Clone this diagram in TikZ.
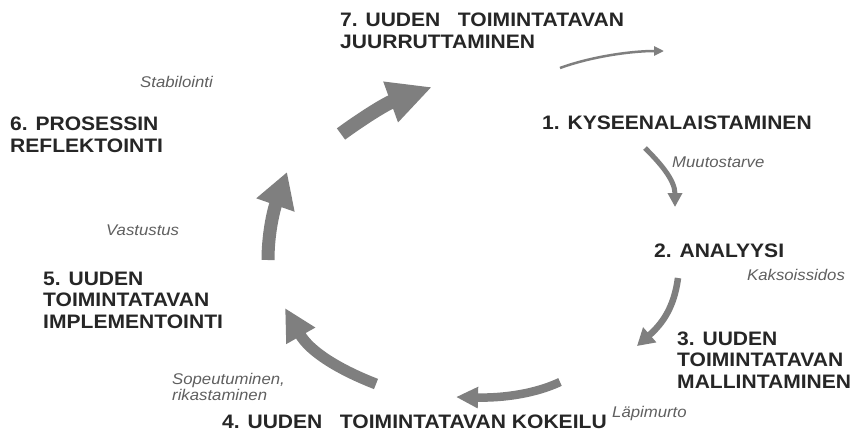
\documentclass[tikz,border=0pt]{standalone}
\usepackage{fontspec}
\setmainfont{Liberation Sans}[FakeStretch=1.08]
\usetikzlibrary{arrows.meta}
\definecolor{stagetext}{HTML}{262626}
\definecolor{labeltext}{HTML}{5F5F5F}
\definecolor{arrowgray}{HTML}{7F7F7F}
\begin{document}
\begin{tikzpicture}[x=1pt,y=-1pt,
  stagebox/.style={inner sep=0pt, anchor=base west, align=left, text=stagetext,
    font=\fontsize{19.5}{21.5}\selectfont\bfseries},
  phaselabel/.style={inner sep=0pt, anchor=base west, align=left, text=labeltext,
    font=\fontsize{15.5}{13.5}\selectfont\itshape},
  cyclearrow/.style={draw=arrowgray, line cap=butt}
]
\useasboundingbox (0,0) rectangle (864,431);
% stages (multi-line nodes are placed at the baseline of their last line)
\node[stagebox] (s7) at (340,48) {7. UUDEN\hspace{0.6em} TOIMINTATAVAN\\JUURRUTTAMINEN};
\node[stagebox] (s1) at (542,129) {1. KYSEENALAISTAMINEN};
\node[stagebox] (s2) at (654,257) {2. ANALYYSI};
\node[stagebox] (s3) at (677,388) {3. UUDEN\\TOIMINTATAVAN\\MALLINTAMINEN};
\node[stagebox] (s4) at (222,428) {4. UUDEN\hspace{0.6em} TOIMINTATAVAN KOKEILU};
\node[stagebox] (s5) at (43,328) {5. UUDEN\\TOIMINTATAVAN\\IMPLEMENTOINTI};
\node[stagebox] (s6) at (10,152) {6. PROSESSIN\\REFLEKTOINTI};
% phase labels
\node[phaselabel] (lstab) at (140,87) {Stabilointi};
\node[phaselabel] (lmuut) at (672,167) {Muutostarve};
\node[phaselabel] (lkaks) at (747,280) {Kaksoissidos};
\node[phaselabel] (llapi) at (612,417) {Läpimurto};
\node[phaselabel] (lsope) at (172,400) {Sopeutuminen,\\rikastaminen};
\node[phaselabel] (lvast) at (106,235) {Vastustus};
% arrow end points
\coordinate (aS) at (560,68);   \coordinate (aE) at (664,51);
\coordinate (bS) at (645,148);  \coordinate (bE) at (675,207);
\coordinate (cS) at (678,278);  \coordinate (cE) at (637,346);
\coordinate (dS) at (560,382);  \coordinate (dE) at (456,397);
\coordinate (eS) at (376,384);  \coordinate (eE) at (285,308);
\coordinate (fS) at (268,260);  \coordinate (fE) at (287,172);
\coordinate (gS) at (341,134);  \coordinate (gE) at (432,87);
% arrows
\draw[cyclearrow, line width=2.5pt, -{Triangle[length=10pt,width=9pt]}]
  (aS) .. controls (590,57) and (630,51) .. (aE);
\draw[cyclearrow, line width=5pt, -{Triangle[length=14pt,width=14pt]}]
  (bS) .. controls (660,163) and (675,180) .. (bE);
\draw[cyclearrow, line width=6.5pt, -{Triangle[length=17pt,width=19pt]}]
  (cS) .. controls (674,308) and (662,324) .. (cE);
\draw[cyclearrow, line width=8.5pt, -{Triangle[length=22pt,width=20pt]}]
  (dS) .. controls (530,396) and (495,398) .. (dE);
\draw[cyclearrow, line width=11pt, -{Triangle[length=32pt,width=31pt]}]
  (eS) .. controls (340,370) and (310,352) .. (eE);
\draw[cyclearrow, line width=13pt, -{Triangle[length=35pt,width=38pt]}]
  (fS) .. controls (268,235) and (273,212) .. (fE);
\draw[cyclearrow, line width=14pt, -{Triangle[length=44pt,width=40pt]}]
  (gS) .. controls (360,120) and (385,104) .. (gE);
\end{tikzpicture}
\end{document}
